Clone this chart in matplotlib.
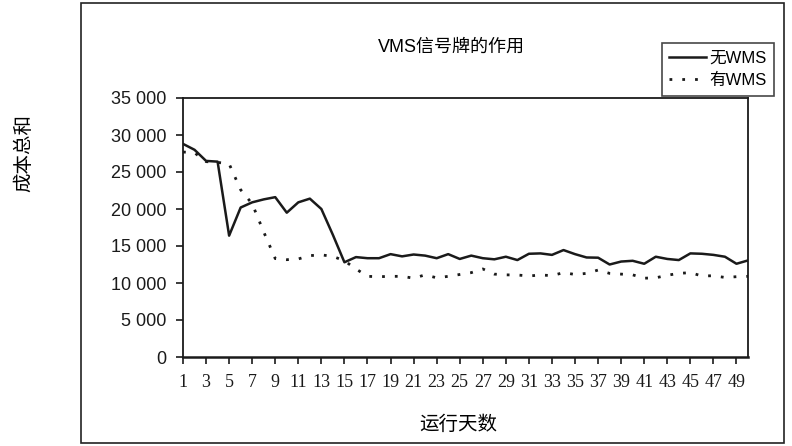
"""VMS信号牌的作用: total cost per running day, with and without VMS."""

import numpy as np
import matplotlib
matplotlib.use("Agg")
import matplotlib.pyplot as plt
from matplotlib.patches import Rectangle

plt.rcParams['font.family'] = ['Liberation Sans', 'Noto Sans CJK SC', 'DejaVu Sans']

# ------------------------------
# Data
# ------------------------------

days = np.arange(1, 51)

cost_no_vms = [
    28800, 28000, 26500, 26400, 16400, 20200, 20900, 21300, 21600, 19500,
    20900, 21400, 20000, 16500, 12800, 13500, 13350, 13350, 13900, 13600,
    13850, 13700, 13350, 13900, 13250, 13700, 13350, 13200, 13550, 13100,
    13950, 14000, 13800, 14450, 13900, 13450, 13420, 12500, 12900, 13000,
    12600, 13550, 13250, 13100, 14000, 13950, 13800, 13550, 12600, 13050,
]

cost_vms = [
    27700, 27600, 26400, 26300, 26100, 22600, 20700, 16900, 13300, 13150,
    13250, 13700, 13800, 13600, 13000, 11900, 10900, 10850, 10900, 10900,
    10650, 11100, 10700, 10900, 11150, 11400, 11900, 11200, 11100, 11080,
    10950, 11080, 11000, 11400, 11150, 11300, 11750, 11300, 11200, 11100,
    10650, 10700, 11050, 11300, 11400, 10950, 10980, 10750, 10850, 10900,
]

xtick_days = list(range(1, 50, 2))
ytick_values = [0, 5000, 10000, 15000, 20000, 25000, 30000, 35000]
ytick_labels = ["0", "5 000", "10 000", "15 000", "20 000", "25 000", "30 000", "35 000"]

series_labels = ["无WMS", "有WMS"]

# ------------------------------
# Figure
# ------------------------------

fig = plt.figure(figsize=(7.92, 4.46), dpi=100)

# outer chart frame
fig.patches.append(Rectangle((81 / 792, 3 / 446), (784 - 81) / 792, (443 - 3) / 446,
                             transform=fig.transFigure, fill=False,
                             edgecolor='#222222', linewidth=1.2))

ax = fig.add_axes([183 / 792, (446 - 357) / 446, (748 - 183) / 792, (357 - 98) / 446])

ax.plot(days, cost_no_vms, color='#1a1a1a', linewidth=1.8, label=series_labels[0])
ax.plot(days, cost_vms, color='#1a1a1a', linewidth=2.0,
        linestyle=(0, (1.0, 3.6)), label=series_labels[1])

ax.set_xlim(1, 50)
ax.set_ylim(0, 35000)
ax.set_xticks(xtick_days)
ax.set_xticklabels([str(d) for d in xtick_days], fontsize=13,
                   family=['Liberation Serif', 'DejaVu Serif'])
ax.set_yticks(ytick_values)
ax.set_yticklabels(ytick_labels, fontsize=13)

ax.tick_params(axis='both', direction='out', length=5, width=1.2, colors='#1a1a1a')
ax.tick_params(axis='x', pad=7)
ax.tick_params(axis='y', pad=7)

for side in ['top', 'right', 'left', 'bottom']:
    ax.spines[side].set_linewidth(1.3)
    ax.spines[side].set_color('#1a1a1a')
ax.spines['bottom'].set_linewidth(1.8)

fig.text(451 / 792, 1 - 47 / 446, "VMS信号牌的作用", ha='center', va='center',
         fontsize=13)
fig.text(458 / 792, 1 - 424 / 446, "运行天数", ha='center', va='center',
         fontsize=14, family=['Noto Sans CJK SC', 'DejaVu Sans'])
fig.text(24 / 792, 1 - 153 / 446, "成本总和", ha='center', va='center',
         rotation=90, fontsize=14, family=['Noto Sans CJK SC', 'DejaVu Sans'])

leg = fig.legend(loc='upper right', bbox_to_anchor=(774 / 792, 1 - 43 / 446),
                 fontsize=12, frameon=True, fancybox=False, handlelength=2.2,
                 handletextpad=0.2, borderpad=0.45, labelspacing=0.45,
                 borderaxespad=0)
leg.get_frame().set_edgecolor('#1a1a1a')
leg.get_frame().set_linewidth(1.2)

plt.savefig("out.png", dpi=100)
